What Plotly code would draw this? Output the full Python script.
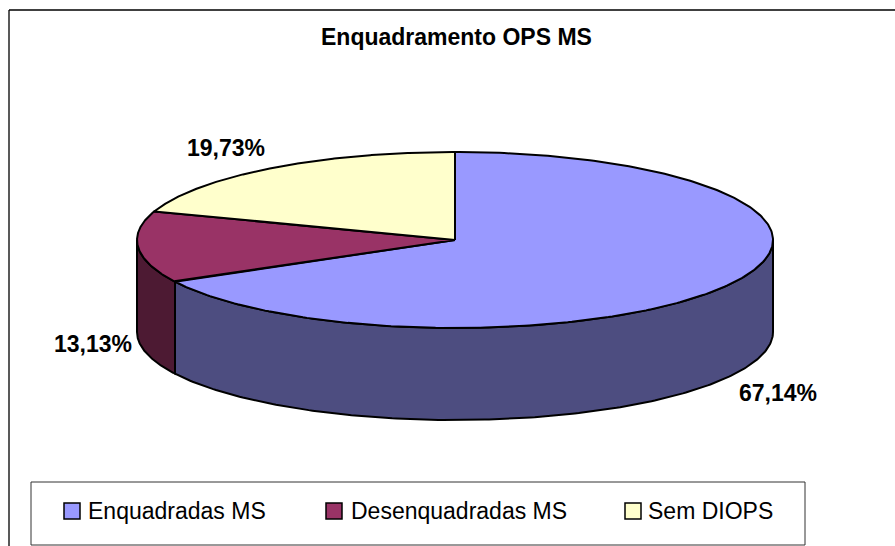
import numpy as np
import plotly.graph_objects as go

title = "Enquadramento OPS MS"
names = ["Enquadradas MS", "Desenquadradas MS", "Sem DIOPS"]
shares = [67.14, 13.13, 19.73]
top_colors = ["#9999FF", "#993366", "#FFFFCC"]
side_colors = ["#4D4D80", "#4D1A33", "#808066"]

FONT = "Liberation Sans, Arial, sans-serif"
CX, CY, RX, RY, DEPTH = 455, 240, 318, 88, 92
label_pos = [(778, 393), (93, 344), (226, 148)]
legend_marker_x = [72, 334, 633]
legend_text_x = [86, 349, 646]
LEGEND_Y = 511


def ell(deg, dy=0.0):
    r = np.radians(deg)
    return CX + RX * np.sin(r), CY - RY * np.cos(r) + dy


fig = go.Figure()
edges = np.cumsum([0] + shares) * 3.6

# visible side walls (front half of the ellipse: 90 to 270 degrees clockwise from 12 o'clock)
for i in range(len(shares)):
    a0, a1 = max(edges[i], 90), min(edges[i + 1], 270)
    if a1 <= a0:
        continue
    t = np.linspace(a0, a1, 200)
    xt, yt = ell(t)
    xb, yb = ell(t[::-1], DEPTH)
    fig.add_trace(go.Scatter(
        x=np.r_[xt, xb, xt[0]], y=np.r_[yt, yb, yt[0]], mode="lines", fill="toself",
        fillcolor=side_colors[i], line=dict(color="black", width=2),
        hoverinfo="skip", showlegend=False))

# top faces
for i in range(len(shares)):
    t = np.linspace(edges[i], edges[i + 1], 300)
    xt, yt = ell(t)
    fig.add_trace(go.Scatter(
        x=np.r_[CX, xt, CX], y=np.r_[CY, yt, CY], mode="lines", fill="toself",
        fillcolor=top_colors[i], line=dict(color="black", width=2),
        hoverinfo="text", text=names[i], showlegend=False))

# legend swatches
for i, n in enumerate(names):
    fig.add_trace(go.Scatter(
        x=[legend_marker_x[i]], y=[LEGEND_Y], mode="markers",
        marker=dict(symbol="square", size=16, color=top_colors[i], line=dict(color="black", width=1.5)),
        hoverinfo="skip", showlegend=False))
    fig.add_annotation(x=legend_text_x[i], y=LEGEND_Y, text=n, showarrow=False, xanchor="left",
                       yanchor="middle", font=dict(family=FONT, size=23, color="black"))

# value labels
for i, s in enumerate(shares):
    fig.add_annotation(x=label_pos[i][0], y=label_pos[i][1], text=f"{s:.2f}%".replace(".", ","),
                       showarrow=False, font=dict(family=FONT, size=23, color="black", weight="bold"))

fig.add_annotation(x=456, y=37, text=title, showarrow=False,
                   font=dict(family=FONT, size=23, color="black", weight="bold"))

# chart frame (left and top only are inside the picture) and legend box
fig.add_shape(type="line", x0=9, x1=9, y0=10, y1=546, line=dict(color="#222222", width=1.5))
fig.add_shape(type="line", x0=9, x1=895, y0=10, y1=10, line=dict(color="black", width=1.5))
fig.add_shape(type="rect", x0=31, x1=805, y0=482, y1=545, line=dict(color="#333333", width=1), layer="below")

fig.update_xaxes(range=[0, 895], visible=False, fixedrange=True)
fig.update_yaxes(range=[546, 0], visible=False, fixedrange=True)
fig.update_layout(width=895, height=546, margin=dict(l=0, r=0, t=0, b=0),
                  paper_bgcolor="white", plot_bgcolor="white", showlegend=False)
fig.write_html("out.html", config={"displayModeBar": False},
               post_script="document.body.style.margin='0';document.body.style.overflow='hidden';")
